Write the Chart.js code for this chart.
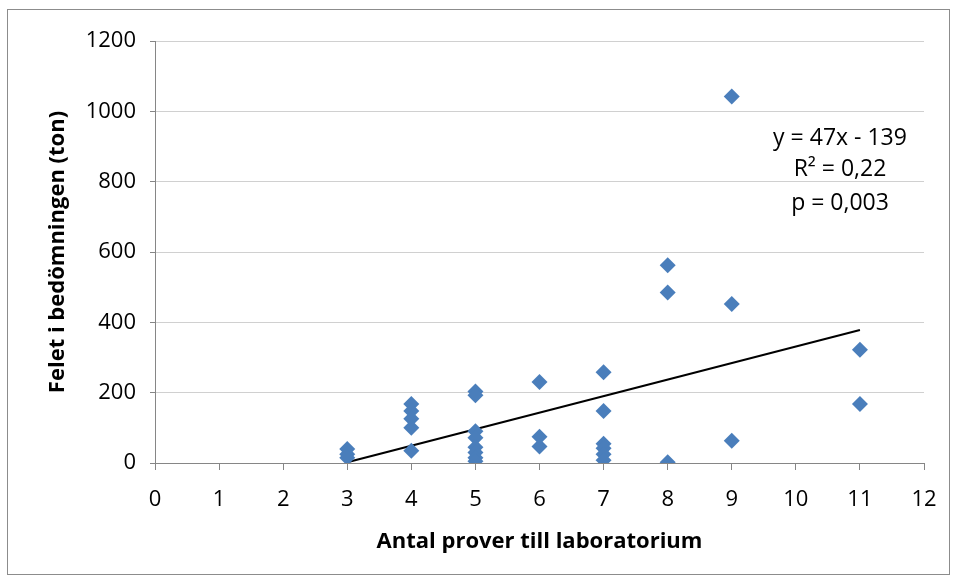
<!DOCTYPE html>
<html>
<head>
<meta charset="utf-8">
<script src="https://cdn.jsdelivr.net/npm/chart.js@4"></script>
<style>
  body { margin: 0; background: #fff; }
  canvas { display: block; }
</style>
</head>
<body>
<canvas id="chart" width="957" height="579"></canvas>
<script>
// Antal prover per laboratorium och felet i bedömningen
const proverX = [3, 3, 3, 4, 4, 4, 4, 4, 5, 5, 5, 5, 5, 5, 5, 5, 6, 6, 6, 7, 7, 7, 7, 7, 7, 8, 8, 8, 9, 9, 9, 11, 11];
const felY = [40, 25, 15, 168, 148, 126, 100, 35, 203, 193, 90, 72, 45, 30, 15, 5, 230, 75, 47, 258, 148, 55, 42, 25, 8, 562, 485, 2, 1042, 452, 63, 322, 168];

// Trendlinje y = 47x - 139
const slope = 47;
const intercept = -139;
const trendX = [3, 11];

const yTicks = [0, 200, 400, 600, 800, 1000, 1200];
const statsText = ['y = 47x - 139', 'R² = 0,22', 'p = 0,003'];

const fontFamily = '"Open Sans", "Liberation Sans", sans-serif';

const frame = {
    id: 'frame',
    beforeDraw(chart) {
        const c = chart.ctx;
        c.save();
        c.fillStyle = '#fff';
        c.fillRect(0, 0, chart.width, chart.height);
        c.strokeStyle = '#8c8c8c';
        c.lineWidth = 1;
        c.strokeRect(7.5, 9.5, 942, 565);
        c.restore();
    }
};

const statsLabel = {
    id: 'statsLabel',
    afterDraw(chart) {
        const c = chart.ctx;
        const a = chart.chartArea;
        c.save();
        c.fillStyle = '#000';
        c.font = '23px ' + fontFamily;
        c.textAlign = 'center';
        c.textBaseline = 'middle';
        const cx = a.right - 84;
        [138, 169, 203].forEach((y, i) => c.fillText(statsText[i], cx, y));
        c.restore();
    }
};

new Chart(document.getElementById('chart'), {
    type: 'scatter',
    data: {
        datasets: [{
            data: proverX.map((x, i) => ({ x: x, y: felY[i] })),
            pointStyle: 'rectRot',
            pointRadius: 8,
            backgroundColor: '#4A7EBB',
            borderColor: '#4A7EBB',
            borderWidth: 0
        }, {
            type: 'line',
            data: trendX.map(x => ({ x: x, y: slope * x + intercept })),
            borderColor: '#000',
            borderWidth: 2,
            pointRadius: 0,
            fill: false
        }]
    },
    options: {
        responsive: false,
        animation: false,
        layout: { padding: { left: 10, top: 41, right: 33, bottom: 20 } },
        plugins: {
            legend: { display: false },
            tooltip: { enabled: false }
        },
        scales: {
            x: {
                type: 'linear',
                min: 0,
                max: 12,
                afterFit: s => { s.height = 96; },
                ticks: {
                    stepSize: 1,
                    color: '#000',
                    padding: 17,
                    callback: v => String(v),
                    font: { family: fontFamily, size: 22 }
                },
                grid: {
                    drawOnChartArea: false,
                    tickLength: 7,
                    tickColor: '#868686'
                },
                border: { color: '#868686', width: 1 },
                title: {
                    display: true,
                    text: 'Antal prover till laboratorium',
                    color: '#000',
                    padding: { top: 2 },
                    font: { family: fontFamily, size: 22, weight: 'bold' }
                }
            },
            y: {
                min: 0,
                max: 1200,
                afterFit: s => { s.width = 145; },
                afterBuildTicks: s => { s.ticks = yTicks.map(v => ({ value: v })); },
                ticks: {
                    color: '#000',
                    padding: 14,
                    callback: v => String(v),
                    font: { family: fontFamily, size: 22 }
                },
                grid: {
                    color: '#d0d0d0',
                    tickLength: 5,
                    tickColor: '#868686'
                },
                border: { color: '#868686', width: 1 },
                title: {
                    display: true,
                    text: 'Felet i bedömningen (ton)',
                    color: '#000',
                    padding: { top: 35, bottom: 0 },
                    font: { family: fontFamily, size: 22, weight: 'bold' }
                }
            }
        }
    },
    plugins: [frame, statsLabel]
});
</script>
</body>
</html>
